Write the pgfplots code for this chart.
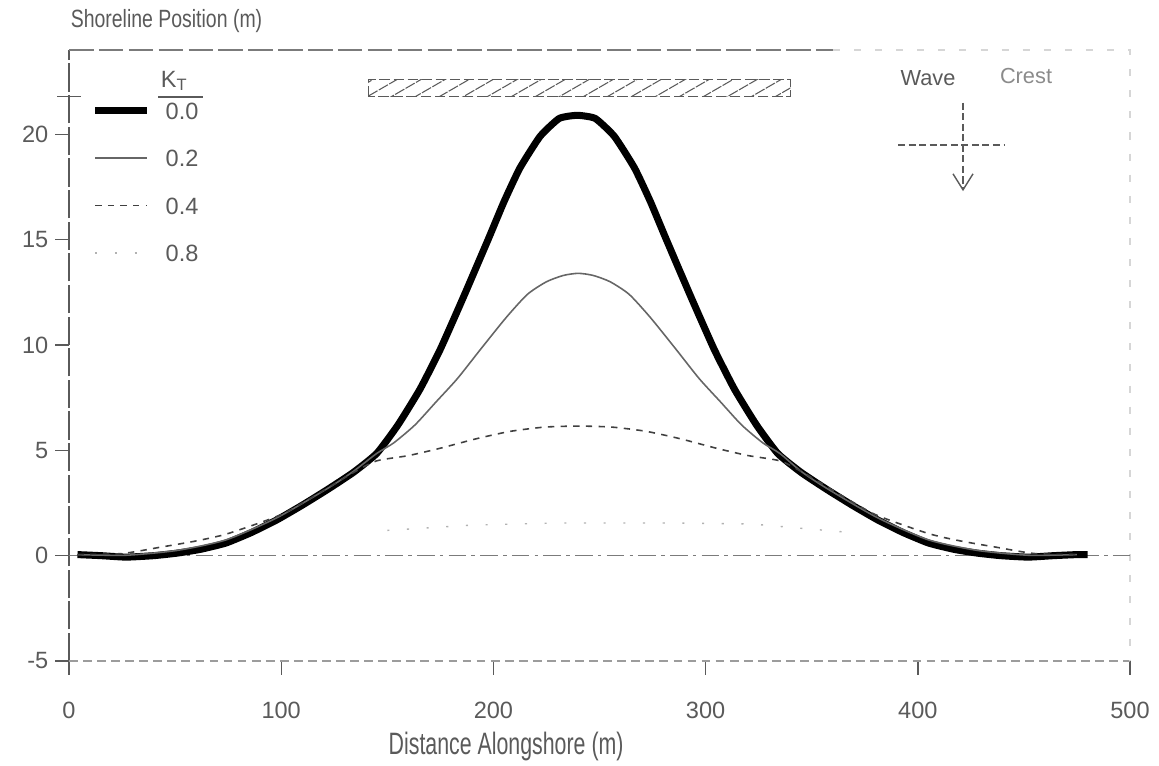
\documentclass[border=0pt]{standalone}
\usepackage{pgfplots}
\pgfplotsset{compat=1.18}
\usepackage{fontspec}
\setmainfont{Liberation Sans}
\usepackage{graphicx}
\usetikzlibrary{patterns.meta, arrows.meta}
\definecolor{ink}{HTML}{5A5A5A}

\begin{document}
\begin{tikzpicture}
\begin{axis}[
  name=ax,
  scale only axis, width=106.1mm, height=61.1mm,
  xmin=0, xmax=500, ymin=-5, ymax=24,
  clip=false,
  xtick={0,100,...,500}, ytick={-5,0,...,20},
  extra y ticks={21.8}, extra y tick labels={},
  extra y tick style={major tick length=2.4mm, tick align=center},
  xtick pos=bottom, ytick pos=left,
  tick align=outside, major tick length=1.4mm,
  tick style={ink, line width=0.4pt},
  axis line style={draw=none},
  /pgf/number format/assume math mode=true,
  ticklabel style={font=\fontsize{6.7}{7}\selectfont, text=ink},
  xticklabel style={anchor=base, yshift=-4.4mm},
  yticklabel style={anchor=east, inner sep=0pt, xshift=-0.6mm},
  legend cell align=left,
  legend style={at={(0.0207,0.916)}, anchor=north west, draw=none, fill=none,
    inner sep=0pt, row sep=3.05mm, column sep=1.5mm,
    font=\fontsize{6.7}{7}\selectfont, text=ink,
    nodes={inner sep=0pt, text height=1.7mm, text depth=0pt}},
  legend image code/.code={\draw[#1] (0mm,0mm) -- (5.2mm,0mm);},
]
% frame, as faint as in the scan
\draw[ink, line width=0.4pt, dash pattern=on 8pt off 1pt] (rel axis cs:0,0) -- (rel axis cs:0,1);
\draw[ink!60, line width=0.35pt, dash pattern=on 2.5pt off 1.5pt] (rel axis cs:0,0) -- (rel axis cs:1,0);
\draw[ink!80, line width=0.4pt, dash pattern=on 7pt off 1.5pt] (rel axis cs:0,1) -- (rel axis cs:0.72,1);
\draw[ink!25, line width=0.3pt, dash pattern=on 2pt off 4pt] (rel axis cs:0.72,1) -- (rel axis cs:1,1) -- (rel axis cs:1,0);

\addplot[ink!80, line width=0.4pt, dash pattern=on 5pt off 1.5pt on 1pt off 1.5pt, forget plot]
  coordinates {(0,0) (500,0)};

% Kr = 0.0
\addplot[black, line width=2pt, line join=round, smooth, tension=0.3] coordinates {
 (4,0.05) (15,0.0) (27,-0.07) (40,0.0) (51,0.12) (62,0.3) (74,0.6) (86,1.1)
 (98,1.7) (110,2.4) (122,3.15) (134,3.95) (145,4.85) (155,6.2) (165.4,7.9)
 (175,9.8) (186,12.3) (197.5,15.0) (205,16.8) (212.5,18.4) (222,19.9)
 (231,20.75) (239.5,20.9) (248,20.75) (257,19.9) (266.5,18.4) (274,16.8)
 (281.5,15.0) (293,12.3) (304,9.8) (313.6,7.9) (324,6.2) (334,4.85) (345,3.95)
 (357,3.15) (369,2.4) (381,1.7) (393,1.1) (405,0.6) (417,0.3) (428,0.12)
 (439,0.0) (452,-0.07) (464,0.0) (475,0.05) (480,0.05)};
\addlegendentry{0.0}

% Kr = 0.2
\addplot[black!60, line width=0.45pt, smooth, tension=0.4] coordinates {
 (4,0.05) (27,0.02) (51,0.25) (74,0.75) (98,1.8) (122,3.2) (134,4.0)
 (145,4.85) (153,5.35) (163,6.2) (173,7.3) (183,8.4) (194,9.8) (206,11.3)
 (216,12.4) (225,13.0) (233,13.3) (240,13.4) (247,13.3) (255,13.0) (264,12.4)
 (274,11.3) (286,9.8) (297,8.4) (307,7.3) (317,6.2) (327,5.35) (335,4.85)
 (345,4.0) (357,3.2) (381,1.8) (405,0.75) (428,0.25) (452,0.02) (475,0.05)};
\addlegendentry{0.2}

% Kr = 0.4
\addplot[black!75, line width=0.45pt, dash pattern=on 1.8pt off 1.8pt, smooth, tension=0.4] coordinates {
 (4,0.05) (25,0.1) (43,0.4) (60,0.7) (75,1.05) (100,1.95) (120,3.1)
 (135,4.0) (145,4.5) (160,4.75) (175,5.1) (192,5.55) (208,5.9) (224,6.1)
 (240,6.15) (256,6.1) (272,5.9) (288,5.55) (305,5.1) (320,4.75) (335,4.5)
 (345,4.0) (360,3.1) (380,1.95) (405,1.05) (420,0.7) (437,0.4) (455,0.1) (476,0.05)};
\addlegendentry{0.4}

% Kr = 0.8 (barely visible in the scan)
\addplot[black!30, line width=0.4pt, dash pattern=on 0.6pt off 5pt] coordinates {
 (150,1.2) (190,1.45) (230,1.55) (262,1.55) (283,1.55) (322,1.5) (368,1.1)};
\addlegendentry{0.8}

% legend header
\node[anchor=south west, inner sep=0pt, text=ink, font=\fontsize{6.7}{7}\selectfont]
  at (rel axis cs:0.086,0.932) {K\textsubscript{T}};
\draw[ink, line width=0.4pt] (rel axis cs:0.084,0.923) -- (rel axis cs:0.126,0.923);

% breakwater
\draw[ink, line width=0.35pt, dash pattern=on 3pt off 1pt,
  pattern={Lines[angle=30, distance=1.2mm, line width=0.3pt]}, pattern color=ink]
  (axis cs:141,21.8) rectangle (axis cs:340,22.6);

% wave symbol
\node[text=ink, font=\fontsize{6.2}{7}\selectfont, anchor=base] at (axis cs:404.8,22.3) {Wave};
\node[text=ink!70, font=\fontsize{6.2}{7}\selectfont, anchor=base] at (axis cs:451,22.4) {Crest};
\draw[ink, line width=0.4pt, dash pattern=on 2pt off 1pt] (axis cs:390.7,19.5) -- (axis cs:441.1,19.5);
\draw[ink, line width=0.4pt, dash pattern=on 2pt off 1pt, -{Straight Barb[length=1.6mm, width=2mm]}]
  (axis cs:421.3,21.5) -- (axis cs:421.3,17.3);

% titles
\node[anchor=base west, inner sep=0pt, text=ink, font=\fontsize{7.1}{8}\selectfont]
  at (rel axis cs:0.001,1) [yshift=2.2mm] {\scalebox{0.78}[1]{Shoreline Position (m)}};
\node[anchor=base, inner sep=0pt, text=ink, font=\fontsize{8.8}{10}\selectfont]
  at (axis cs:206,-5) [yshift=-9.4mm] {\scalebox{0.69}[1]{Distance Alongshore (m)}};
\end{axis}
\pgfresetboundingbox
\path[use as bounding box] ([shift={(-6.9mm,-10.5mm)}]ax.south west) rectangle ([shift={(2.9mm,5mm)}]ax.north east);
\end{tikzpicture}
\end{document}
